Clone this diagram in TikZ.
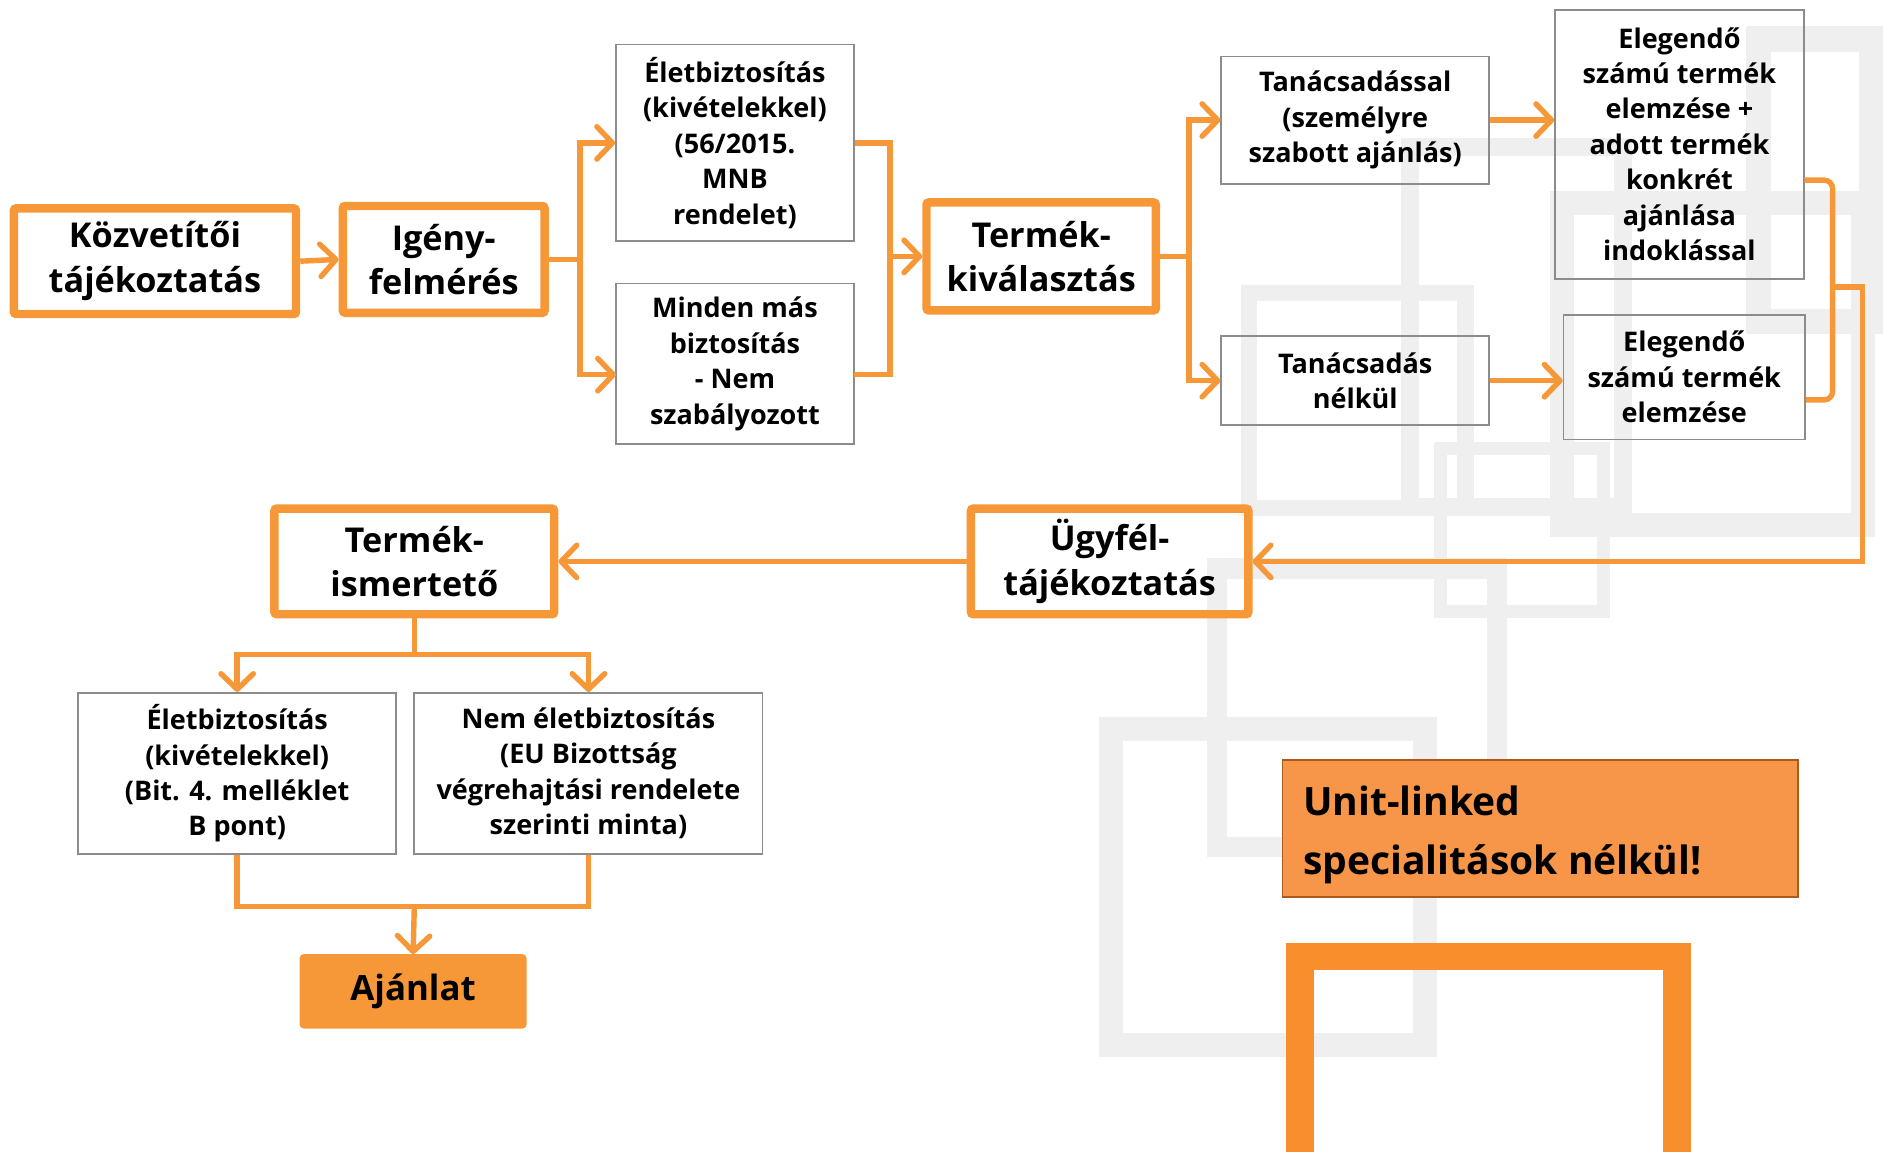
\documentclass[tikz,border=0pt]{standalone}
\usepackage{fontspec}
\setmainfont{Open Sans}
\usetikzlibrary{arrows.meta,calc}
\definecolor{org}{RGB}{247,152,56}
\definecolor{orgfill}{RGB}{247,150,72}
\definecolor{orgedge}{RGB}{170,90,30}
\definecolor{orgframe}{RGB}{248,143,44}
\definecolor{gfr}{RGB}{239,239,239}
\definecolor{gedge}{RGB}{140,140,140}
\tikzset{
  mainbox/.style={draw=org, line width=7pt, rounded corners=2pt, inner sep=0pt, align=center,
    font=\bfseries\fontsize{28.5}{37}\selectfont},
  graybox/.style={draw=gedge, line width=1.5pt, inner sep=0pt, align=center,
    font=\bfseries\fontsize{22.5}{29.5}\selectfont},
  con/.style={draw=org, line width=4.5pt},
  arr/.style={-{Straight Barb[length=13pt,width=27pt,line cap=round,line join=round]}},
  gframe/.style={draw=gfr},
}
\begin{document}
\begin{tikzpicture}[x=1pt,y=-1pt]
\useasboundingbox (0,0) rectangle (1568,959);
\begin{scope}
\clip (0,0) rectangle (1568,959);
% background frames
\draw[gframe,line width=20pt] (925,607) rectangle (1187,870);
\draw[gframe,line width=17pt] (1013.5,473.5) rectangle (1246.5,705.5);
\draw[gframe,line width=11pt] (1199.5,373.5) rectangle (1335.5,509.5);
\draw[gframe,line width=14pt] (1040,244) rectangle (1220,423);
\draw[gframe,line width=20pt] (1301,169) rectangle (1551,437);
\draw[gframe,line width=21pt] (1464.5,32.5) rectangle (1558.5,267.5);
\draw[gframe,line width=15pt] (1174.5,122.5) rectangle (1351.5,422.5);
% big orange frame
\draw[draw=orgframe,line width=23pt] (1082.5,796.5) rectangle (1396.5,1100);
\end{scope}

% main boxes
\node[mainbox, minimum width=235pt, minimum height=88pt] (k1) at (129,217.5) {Közvetítői\\tájékoztatás};
\node[mainbox, minimum width=168pt, minimum height=89pt] (k2) at (369.5,216) {Igény-\\felmérés};
\node[mainbox, minimum width=191pt, minimum height=90pt] (tk) at (867,213.5) {Termék-\\kiválasztás};
\node[mainbox, minimum width=231pt, minimum height=88pt] (ugy) at (924,467.5) {Ügyfél-\\tájékoztatás};
\node[mainbox, minimum width=233pt, minimum height=88pt] (ti) at (345,467.5) {Termék-\\ismertető};

% gray boxes
\node[graybox, minimum width=198pt, minimum height=164pt] (e1) at (612,119) {Életbiztosítás\\(kivételekkel)\\(56/2015.\\MNB\\rendelet)};
\node[graybox, minimum width=198pt, minimum height=134pt] (m1) at (612,303) {Minden más\\biztosítás\\- Nem\\szabályozott};
\node[graybox, minimum width=223pt, minimum height=106pt] (ta) at (1128.5,100) {Tanácsadással\\(személyre\\szabott ajánlás)};
\node[graybox, minimum width=223pt, minimum height=74pt] (tn) at (1128.5,317) {Tanácsadás\\nélkül};
\node[graybox, minimum width=207pt, minimum height=224pt] (el1) at (1398.5,120) {Elegendő\\számú termék\\elemzése +\\adott termék\\konkrét\\ajánlása\\indoklással};
\node[graybox, minimum width=201pt, minimum height=104pt] (el2) at (1402.5,314) {Elegendő\\számú termék\\elemzése};
\node[graybox, minimum width=265pt, minimum height=134pt] (b1) at (197.5,644) {Életbiztosítás\\(kivételekkel)\\(Bit. 4. melléklet\\B pont)};
\node[graybox, minimum width=290pt, minimum height=134pt] (b2) at (490,644) {Nem életbiztosítás\\(EU Bizottság\\végrehajtási rendelete\\szerinti minta)};

% filled boxes
\node[fill=org, draw=org, line width=1pt, rounded corners=3pt, minimum width=188pt, minimum height=61pt, inner sep=0pt,
  font=\bfseries\fontsize{29}{36}\selectfont] (aj) at (344,825.5) {Ajánlat};
\node[fill=orgfill, draw=orgedge, line width=1.5pt, minimum width=429pt, minimum height=114pt, inner sep=0pt] (ul) at (1282.5,690) {};
\node[anchor=west, align=left, inner sep=0pt, font=\bfseries\fontsize{32.5}{49}\selectfont] (ult) at (1085,695) {Unit-linked\\specialitások nélkül!};

% connectors
\draw[con,arr] (k1.east) -- (k2.west);
\coordinate (br1) at (483,216);
\coordinate (m1a) at (513,312);
\coordinate (m1b) at (711,312);
\draw[con] (k2.east) -- (br1);
\draw[con,arr] (br1) |- (e1.west);
\draw[con,arr] (br1) |- (m1a);
\coordinate (c1) at (741,213.5);
\draw[con] (e1.east) -| (c1);
\draw[con] (m1b) -| (c1);
\draw[con,arr] (c1) -- (tk.west);
\coordinate (br2) at (990,213.5);
\draw[con] (tk.east) -- (br2);
\draw[con,arr] (br2) |- (ta.west);
\draw[con,arr] (br2) |- (tn.west);
\draw[con,arr] (ta.east) -- (el1.west |- ta.east);
\draw[con,arr] (tn.east) -- (el2.west |- tn.east);
% brace
\coordinate (bt) at (1526,150);
\coordinate (bb) at (1526,333);
\coordinate (bm) at (1526,239);
\coordinate (bc) at (1551,239);
\coordinate (bd) at (1551,467.5);
\draw[con,rounded corners=7pt] (el1.east |- bt) -- (bt) -- (bb) -- (el2.east |- bb);
\draw[con,arr] (bm) -- (bc) -- (bd) -- (ugy.east);
\draw[con,arr] (ugy.west) -- (ti.east);
% lower part
\coordinate (lt) at (345,545);
\draw[con] (ti.south) -- (lt);
\draw[con,arr] (lt) -| (b1.north);
\draw[con,arr] (lt) -| (b2.north);
\coordinate (lb) at (345,755);
\draw[con] (b1.south) |- (lb);
\draw[con] (b2.south) |- (lb);
\draw[con,arr] (lb) -- (aj.north);
\end{tikzpicture}
\end{document}
